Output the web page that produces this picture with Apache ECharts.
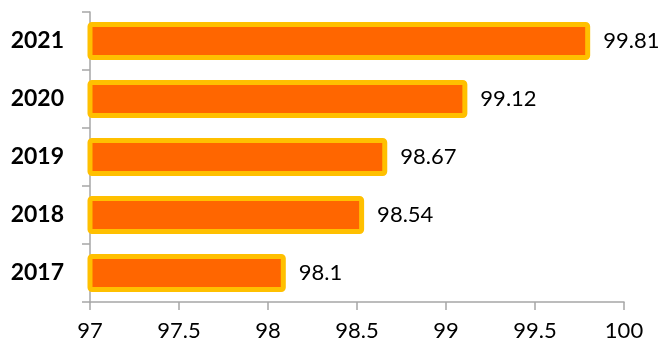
<!DOCTYPE html>
<html>
<head>
<meta charset="utf-8">
<script src="https://cdn.jsdelivr.net/npm/echarts@6/dist/echarts.min.js"></script>
<style>html,body{margin:0;padding:0;background:#fff;}#c{width:666px;height:351px;}</style>
</head>
<body>
<div id="c"></div>
<script>
const categories = ['2017', '2018', '2019', '2020', '2021'];
const values = [98.1, 98.54, 98.67, 99.12, 99.81];
const xTicks = [97, 97.5, 98, 98.5, 99, 99.5, 100];

const chart = echarts.init(document.getElementById('c'));
chart.setOption({
  animation: false,
  grid: { left: 90, right: 42, top: 12, bottom: 49 },
  xAxis: {
    type: 'value', min: 97, max: 100, interval: 0.5,
    axisLine: { show: true, lineStyle: { color: '#a6a6a6', width: 1.5 } },
    axisTick: { show: true, length: 8, lineStyle: { color: '#a6a6a6', width: 1.5 } },
    splitLine: { show: false },
    axisLabel: { margin: 18, fontSize: 22, color: '#000', fontFamily: 'Lato',
      formatter: v => xTicks.includes(v) ? String(v) : '' }
  },
  yAxis: {
    type: 'category', data: categories,
    axisLine: { show: true, lineStyle: { color: '#a6a6a6', width: 1.5 } },
    axisTick: { show: true, length: 8, lineStyle: { color: '#a6a6a6', width: 1.5 } },
    axisLabel: { margin: 26, fontSize: 23, fontWeight: 'bold', color: '#000', fontFamily: 'Lato' }
  },
  series: [{
    type: 'bar', data: values, barWidth: 38,
    itemStyle: { color: '#FF6600', borderColor: '#FFC000', borderWidth: 5, borderRadius: 2 },
    label: { show: true, position: 'right', distance: 13, fontSize: 22, color: '#000', fontFamily: 'Lato' }
  }]
});
</script>
</body>
</html>
